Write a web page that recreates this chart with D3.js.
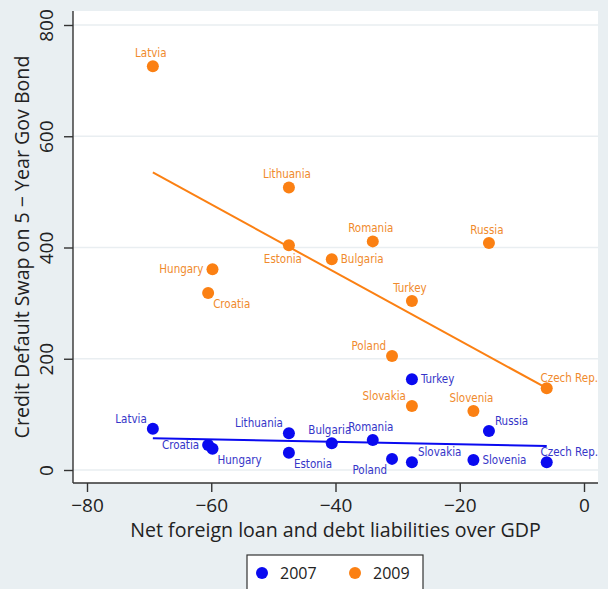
<!DOCTYPE html>
<html>
<head>
<meta charset="utf-8">
<title>CDS vs foreign liabilities</title>
<script src="https://d3js.org/d3.v7.min.js"></script>
<style>
  body { margin: 0; background: #e9eff2; }
  svg { display: block; }
</style>
</head>
<body>
<script>
// data
var countries = ["Latvia", "Lithuania", "Estonia", "Romania", "Bulgaria", "Russia", "Hungary",
                 "Croatia", "Turkey", "Poland", "Slovakia", "Slovenia", "Czech Rep."];
var liabilities = [-69.4, -47.5, -47.5, -34.0, -40.6, -15.3, -59.8, -60.5, -27.7, -30.9, -27.7, -17.8, -6.0];
var cds2007 = [74, 66, 31, 54, 48, 70, 38, 45, 163, 20, 14, 18, 14];
var cds2009 = [726, 508, 404, 411, 379, 408, 361, 318, 304, 205, 115, 106, 147];
// marker label positions (clock positions, like Stata's mlabvpos)
var lpos2007 = [11, 11, 5, 12, 12, 1, 5, 9, 3, 7, 1, 3, 1];
var lpos2009 = [12, 12, 6, 12, 3, 12, 9, 5, 12, 11, 11, 12, 1];
// fitted lines, end points
var fit2007 = [[-69.4, 57], [-6.0, 43]];
var fit2009 = [[-69.4, 535], [-6.0, 147]];
var xTicks = [-80, -60, -40, -20, 0];
var yTicks = [0, 200, 400, 600, 800];
var seriesNames = ["2007", "2009"];

var W = 608, H = 589;
var plot = {left: 73, top: 11, right: 598, bottom: 483};

var svg = d3.select("body").append("svg")
    .attr("width", W)
    .attr("height", H);

svg.append("rect").attr("width", W).attr("height", H).attr("fill", "#e9eff2");
svg.append("rect")
    .attr("x", plot.left).attr("y", plot.top)
    .attr("width", plot.right - plot.left).attr("height", plot.bottom - plot.top)
    .attr("fill", "#fff");

var x = d3.scaleLinear().domain([-80, 0]).range([87, 584]);
var y = d3.scaleLinear().domain([0, 800]).range([470, 25]);

var blue = "#0a0af0", orange = "#fb8013";
var blueText = "#3535c8", orangeText = "#f08a2c";
var sans = "'Open Sans', 'Noto Sans', sans-serif";
var narrow = "'Liberation Sans Narrow', 'DejaVu Sans Condensed', sans-serif";

// grid
svg.append("g").selectAll("line")
    .data(yTicks)
    .enter().append("line")
    .attr("x1", plot.left).attr("x2", plot.right)
    .attr("y1", function(d) { return y(d); })
    .attr("y2", function(d) { return y(d); })
    .attr("stroke", "#e9eef1")
    .attr("stroke-width", 1.6);

// axes
var yAxis = svg.append("g")
    .attr("transform", "translate(" + plot.left + ",0)")
    .call(d3.axisLeft(y).tickValues(yTicks).tickSize(9).tickPadding(0));
var xAxis = svg.append("g")
    .attr("transform", "translate(0," + plot.bottom + ")")
    .call(d3.axisBottom(x).tickValues(xTicks).tickSize(9)
          .tickFormat(function(d) { return d < 0 ? "\u2212" + Math.abs(d) : d; }));

[xAxis, yAxis].forEach(function(a) {
  a.select(".domain").remove();
  a.selectAll(".tick line").attr("stroke", "#333").attr("stroke-width", 1.4);
  a.selectAll("text").attr("fill", "#222").attr("font-family", sans).attr("font-size", 19);
});
yAxis.selectAll("text")
    .attr("x", 0).attr("dy", 0)
    .attr("text-anchor", "middle")
    .attr("transform", "translate(-20,0) rotate(-90)");
xAxis.selectAll("text").attr("y", 29).attr("dy", 0);

svg.append("line")
    .attr("x1", plot.left).attr("x2", plot.left)
    .attr("y1", plot.top).attr("y2", plot.bottom)
    .attr("stroke", "#333").attr("stroke-width", 1.4);
svg.append("line")
    .attr("x1", plot.left).attr("x2", plot.right)
    .attr("y1", plot.bottom).attr("y2", plot.bottom)
    .attr("stroke", "#333").attr("stroke-width", 1.4);

// titles
svg.append("text")
    .attr("x", (plot.left + plot.right) / 2).attr("y", 537)
    .attr("text-anchor", "middle")
    .attr("font-family", sans).attr("font-size", 19.6).attr("fill", "#222")
    .text("Net foreign loan and debt liabilities over GDP");
svg.append("text")
    .attr("transform", "translate(29," + (plot.top + plot.bottom) / 2 + ") rotate(-90)")
    .attr("text-anchor", "middle")
    .attr("font-family", sans).attr("font-size", 19.6).attr("fill", "#222")
    .text("Credit Default Swap on 5 \u2212 Year Gov Bond");

// fit lines
var line = d3.line().x(function(d) { return x(d[0]); }).y(function(d) { return y(d[1]); });
svg.append("path").attr("d", line(fit2009)).attr("fill", "none")
    .attr("stroke", orange).attr("stroke-width", 2);
svg.append("path").attr("d", line(fit2007)).attr("fill", "none")
    .attr("stroke", blue).attr("stroke-width", 2);

// label offsets by clock position
function labelPlace(p) {
  switch (p) {
    case 12: return {dx: -2, dy: -9, anchor: "middle"};
    case 6:  return {dx: -6, dy: 18, anchor: "middle"};
    case 3:  return {dx: 9, dy: 4, anchor: "start"};
    case 9:  return {dx: -9, dy: 4, anchor: "end"};
    case 1:  return {dx: 6, dy: -6, anchor: "start"};
    case 11: return {dx: -6, dy: -6, anchor: "end"};
    case 5:  return {dx: 5, dy: 15, anchor: "start"};
    case 7:  return {dx: -5, dy: 15, anchor: "end"};
  }
}

function drawSeries(vals, lpos, col, tcol) {
  var data = countries.map(function(c, i) { return {name: c, x: liabilities[i], y: vals[i], p: lpos[i]}; });
  var g = svg.append("g");
  g.selectAll("circle")
    .data(data)
    .enter().append("circle")
    .attr("cx", function(d) { return x(d.x); })
    .attr("cy", function(d) { return y(d.y); })
    .attr("r", 6)
    .attr("fill", col);
  g.selectAll("text")
    .data(data)
    .enter().append("text")
    .attr("x", function(d) { return x(d.x) + labelPlace(d.p).dx; })
    .attr("y", function(d) { return y(d.y) + labelPlace(d.p).dy; })
    .attr("text-anchor", function(d) { return labelPlace(d.p).anchor; })
    .attr("font-family", narrow).attr("font-size", 11.5)
    .attr("fill", tcol)
    .text(function(d) { return d.name; })
    .each(function() {
      // keep labels inside the right edge of the page
      var b = this.getBBox();
      if (b.x + b.width > plot.right) {
        d3.select(this).attr("x", +d3.select(this).attr("x") - (b.x + b.width - plot.right));
      }
    });
}
drawSeries(cds2009, lpos2009, orange, orangeText);
drawSeries(cds2007, lpos2007, blue, blueText);

// legend
var leg = svg.append("g");
leg.append("rect")
    .attr("x", 247).attr("y", 555).attr("width", 176).attr("height", 50)
    .attr("fill", "#fff").attr("stroke", "#333").attr("stroke-width", 1.2);
var items = leg.selectAll("g.item")
    .data(seriesNames)
    .enter().append("g").attr("class", "item")
    .attr("transform", function(d, i) { return "translate(" + (262 + i * 93) + ",573)"; });
items.append("circle").attr("r", 6)
    .attr("fill", function(d, i) { return i === 0 ? blue : orange; });
items.append("text")
    .attr("x", 18).attr("y", 6)
    .attr("font-family", sans).attr("font-size", 16).attr("fill", "#222")
    .text(function(d) { return d; });
</script>
</body>
</html>
